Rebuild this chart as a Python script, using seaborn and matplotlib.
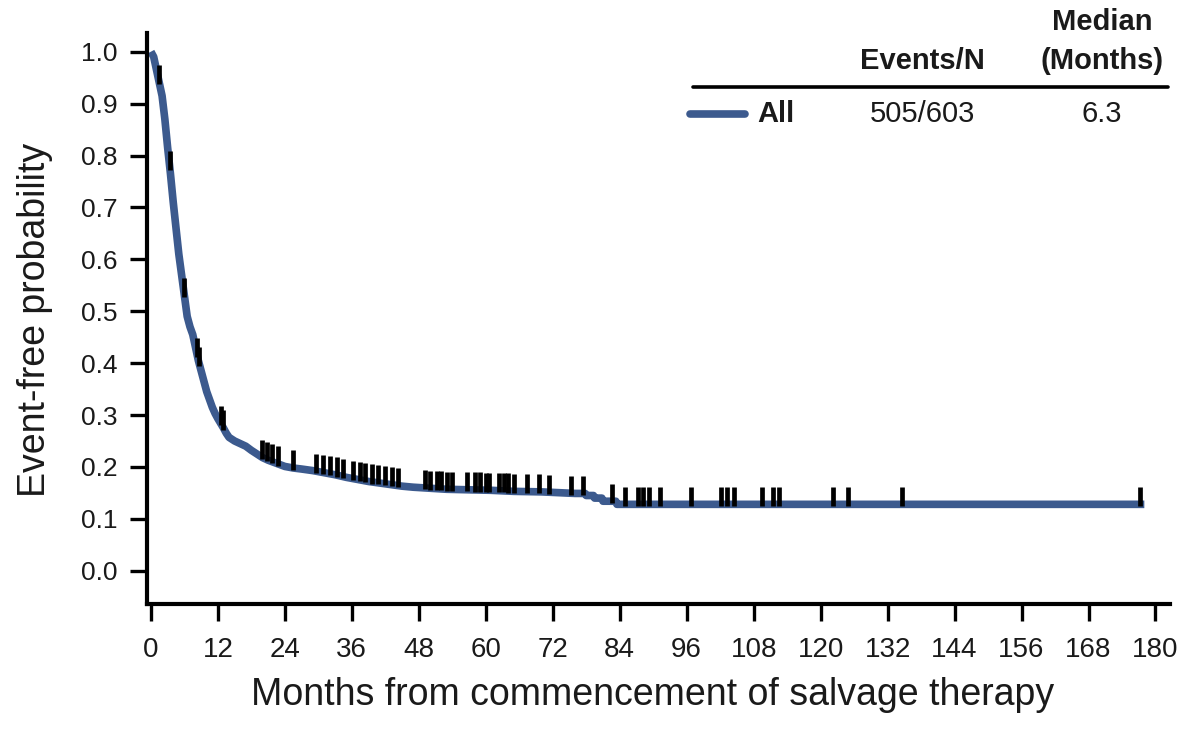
import numpy as np
import pandas as pd
import matplotlib
matplotlib.use("Agg")
import matplotlib.pyplot as plt
import seaborn as sns

# ---- data ----
times = [0, 0.5, 1.0, 1.5, 2.0, 2.5, 3.0, 3.5, 4.0, 4.5, 5.0, 5.5, 6.0, 6.5, 7.0, 7.5,
         8.0, 8.5, 9.0, 9.5, 10.0, 10.5, 11.0, 11.5, 12.0, 12.5, 13.0, 13.5, 14.0, 15.0,
         16.0, 17.0, 18.0, 19.0, 20.0, 21.0, 22.0, 23.0, 24.0, 25.5, 27.0, 29.0, 31.0,
         33.0, 35.0, 37.0, 39.0, 41.0, 43.0, 45.0, 47.0, 50.0, 53.0, 57.0, 61.0, 65.0,
         70.0, 76.0, 77.8, 78.0, 79.3, 79.5, 80.8, 81.0, 83.3, 83.5, 178.0]
surv = [1.0, 0.99, 0.965, 0.94, 0.915, 0.87, 0.815, 0.765, 0.71, 0.66, 0.61, 0.57, 0.53,
        0.49, 0.47, 0.455, 0.43, 0.405, 0.385, 0.365, 0.345, 0.33, 0.315, 0.303, 0.293,
        0.284, 0.275, 0.265, 0.257, 0.25, 0.245, 0.24, 0.232, 0.225, 0.218, 0.213, 0.209,
        0.205, 0.201, 0.198, 0.196, 0.193, 0.189, 0.185, 0.18, 0.176, 0.172, 0.169, 0.166,
        0.163, 0.161, 0.159, 0.157, 0.156, 0.155, 0.153, 0.152, 0.149, 0.149, 0.145, 0.145,
        0.14, 0.14, 0.134, 0.134, 0.128, 0.128]
censor_times = [1.5, 3.4, 6.0, 8.3, 8.7, 12.5, 13.0,
                19.9, 20.8, 21.7, 22.8, 25.5,
                29.6, 30.8, 32.1, 33.3, 34.4, 36.2, 37.5, 38.4, 39.6, 40.7, 41.9, 43.2, 44.3,
                49.1, 50.0, 51.2, 52.0, 53.0, 54.0, 56.6, 58.1, 59.0, 60.0, 60.5,
                62.3, 63.2, 64.0, 65.0, 67.4, 69.5, 71.4, 75.2, 77.5,
                82.7, 84.9, 87.3, 88.2, 89.2, 91.3, 96.8, 102.2, 103.2, 104.5,
                109.5, 111.5, 112.5, 122.2, 124.9, 134.6, 177.2]
x_ticks = list(range(0, 181, 12))
y_ticks = [0.0, 0.1, 0.2, 0.3, 0.4, 0.5, 0.6, 0.7, 0.8, 0.9, 1.0]
group_label = "All"
events_n = "505/603"
median_months = "6.3"
x_label = "Months from commencement of salvage therapy"
y_label = "Event-free probability"

# ---- style ----
sns.set_theme(style="white")
plt.rcParams["font.family"] = ["Liberation Sans", "DejaVu Sans"]

line_color = "#3c5a8e"
text_color = "#1a1a1a"

fig = plt.figure(figsize=(11.86, 7.32), dpi=100)
ax = fig.add_axes([147 / 1186, 1 - 604 / 732, (1170 - 147) / 1186, (604 - 33) / 732])

df = pd.DataFrame({"t": times, "s": surv})
sns.lineplot(data=df, x="t", y="s", estimator=None, sort=False,
             color=line_color, linewidth=5.5, ax=ax, solid_capstyle="butt",
             solid_joinstyle="round")

# censor marks on the curve
ct = np.array(censor_times)
cs = np.interp(ct, np.array(times), np.array(surv))
ax.vlines(ct, cs - 0.003, cs + 0.034, colors="black", linewidth=3.4, zorder=3)

ax.set_xlim(-0.7, 182.6)
ax.set_ylim(-0.064, 1.036)
ax.set_xticks(x_ticks)
ax.set_xticklabels([str(v) for v in x_ticks])
ax.set_yticks(y_ticks)
ax.set_yticklabels([f"{v:.1f}" for v in y_ticks])
ax.tick_params(axis="both", direction="out", length=12, width=2.4, color="black",
               labelcolor=text_color, bottom=True, left=True)
ax.tick_params(axis="x", labelsize=20, pad=12)
ax.tick_params(axis="y", labelsize=19, pad=9)
for side in ["top", "right"]:
    ax.spines[side].set_visible(False)
for side in ["left", "bottom"]:
    ax.spines[side].set_linewidth(3.0)
    ax.spines[side].set_color("black")

ax.set_xlabel(x_label, fontsize=27, color=text_color, va="center")
ax.xaxis.set_label_coords(0.494, -0.16)
ax.set_ylabel(y_label, fontsize=27, color=text_color, va="center")
ax.yaxis.set_label_coords(-0.109, 0.497)

# ---- legend table ----
def fx(px):
    return px / 1186

def fy(py):
    return 1 - py / 732

fs = 21
fig.text(fx(1102), fy(22), "Median", ha="center", va="center", fontsize=fs, fontweight="bold", color=text_color)
fig.text(fx(1102), fy(61), "(Months)", ha="center", va="center", fontsize=fs, fontweight="bold", color=text_color)
fig.text(fx(922), fy(61), "Events/N", ha="center", va="center", fontsize=fs, fontweight="bold", color=text_color)
fig.add_artist(plt.Line2D([fx(693), fx(1168)], [fy(87), fy(87)], color="black", linewidth=2.6))
fig.add_artist(plt.Line2D([fx(690), fx(745)], [fy(114), fy(114)], color=line_color, linewidth=5.5))
fig.text(fx(757), fy(114), group_label, ha="left", va="center", fontsize=fs, fontweight="bold", color=text_color)
fig.text(fx(922), fy(114), events_n, ha="center", va="center", fontsize=fs, color=text_color)
fig.text(fx(1102), fy(114), median_months, ha="center", va="center", fontsize=fs, color=text_color)

fig.savefig("out.png", dpi=100)
